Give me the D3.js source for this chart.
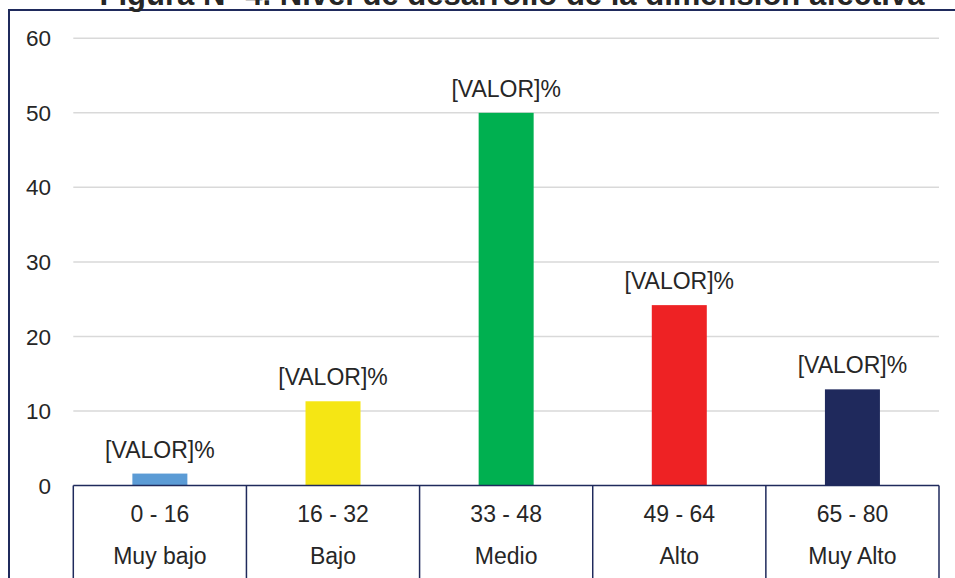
<!DOCTYPE html>
<html><head><meta charset="utf-8">
<script src="https://cdn.jsdelivr.net/npm/d3@7"></script>
<style>
html,body{margin:0;padding:0;background:#fff;overflow:hidden;}
svg{display:block;font-family:"Liberation Sans",Arial,sans-serif;}
</style></head>
<body>
<svg id="chart" width="955" height="578"></svg>
<script>
const title = "Figura Nº 4. Nivel de desarrollo de la dimensión afectiva";
const ranges = ["0 - 16", "16 - 32", "33 - 48", "49 - 64", "65 - 80"];
const levels = ["Muy bajo", "Bajo", "Medio", "Alto", "Muy Alto"];
const values = [1.6, 11.3, 50, 24.2, 12.9];
const labels = ["[VALOR]%", "[VALOR]%", "[VALOR]%", "[VALOR]%", "[VALOR]%"];
const colors = ["#5b9bd5", "#f5e614", "#00b050", "#ee2224", "#1f295c"];
const yTicks = [0, 10, 20, 30, 40, 50, 60];

const svg = d3.select("#chart");
const navy = "#1f2a5c";
const txt = "#262626";
const pLeft = 73.3, pRight = 939, pTop = 38.3, pBottom = 485.5;

// frame
svg.append("rect").attr("x", 9).attr("y", 10).attr("width", 1100).attr("height", 700)
  .attr("fill", "none").attr("stroke", navy).attr("stroke-width", 2);

// title
const t = svg.append("text").attr("x", 512).attr("y", 5).attr("text-anchor", "middle")
  .attr("font-weight", "bold").attr("font-size", 24).attr("fill", txt).text(title);
const w = t.node().getComputedTextLength();
t.attr("font-size", 24 * 825 / w);

const x = d3.scaleBand().domain(levels).range([pLeft, pRight]).padding(0);
const y = d3.scaleLinear().domain([0, 60]).range([pBottom, pTop]);

// gridlines
svg.append("g").selectAll("line").data(yTicks.slice(1)).join("line")
  .attr("x1", pLeft).attr("x2", pRight).attr("y1", d => y(d)).attr("y2", d => y(d))
  .attr("stroke", "#d9d9d9").attr("stroke-width", 1.5);

// y labels
svg.append("g").selectAll("text").data(yTicks).join("text")
  .attr("x", 51).attr("y", d => y(d)).attr("dy", "0.36em").attr("text-anchor", "end")
  .attr("font-size", 22.5).attr("fill", txt).text(d => d);

// bars
const bw = 55;
svg.append("g").selectAll("rect").data(values).join("rect")
  .attr("x", (d, i) => x(levels[i]) + x.bandwidth() / 2 - bw / 2)
  .attr("width", bw)
  .attr("y", d => y(d)).attr("height", d => y(0) - y(d))
  .attr("fill", (d, i) => colors[i]);

// data labels
svg.append("g").selectAll("text").data(values).join("text")
  .attr("x", (d, i) => x(levels[i]) + x.bandwidth() / 2)
  .attr("y", d => y(d) - 16).attr("text-anchor", "middle")
  .attr("font-size", 23).attr("fill", txt).text((d, i) => labels[i]);

// axis line and dividers
svg.append("line").attr("x1", pLeft).attr("x2", pRight).attr("y1", pBottom).attr("y2", pBottom)
  .attr("stroke", navy).attr("stroke-width", 1.5);
const divs = levels.map(l => x(l)).concat([pRight]);
svg.append("g").selectAll("line").data(divs).join("line")
  .attr("x1", d => d).attr("x2", d => d).attr("y1", pBottom).attr("y2", 580)
  .attr("stroke", navy).attr("stroke-width", 1.5);

// category labels
svg.append("g").selectAll("text").data(ranges).join("text")
  .attr("x", (d, i) => x(levels[i]) + x.bandwidth() / 2).attr("y", 522)
  .attr("text-anchor", "middle").attr("font-size", 23).attr("fill", txt).text(d => d);
svg.append("g").selectAll("text").data(levels).join("text")
  .attr("x", d => x(d) + x.bandwidth() / 2).attr("y", 564)
  .attr("text-anchor", "middle").attr("font-size", 23).attr("fill", txt).text(d => d);
</script>
</body></html>
